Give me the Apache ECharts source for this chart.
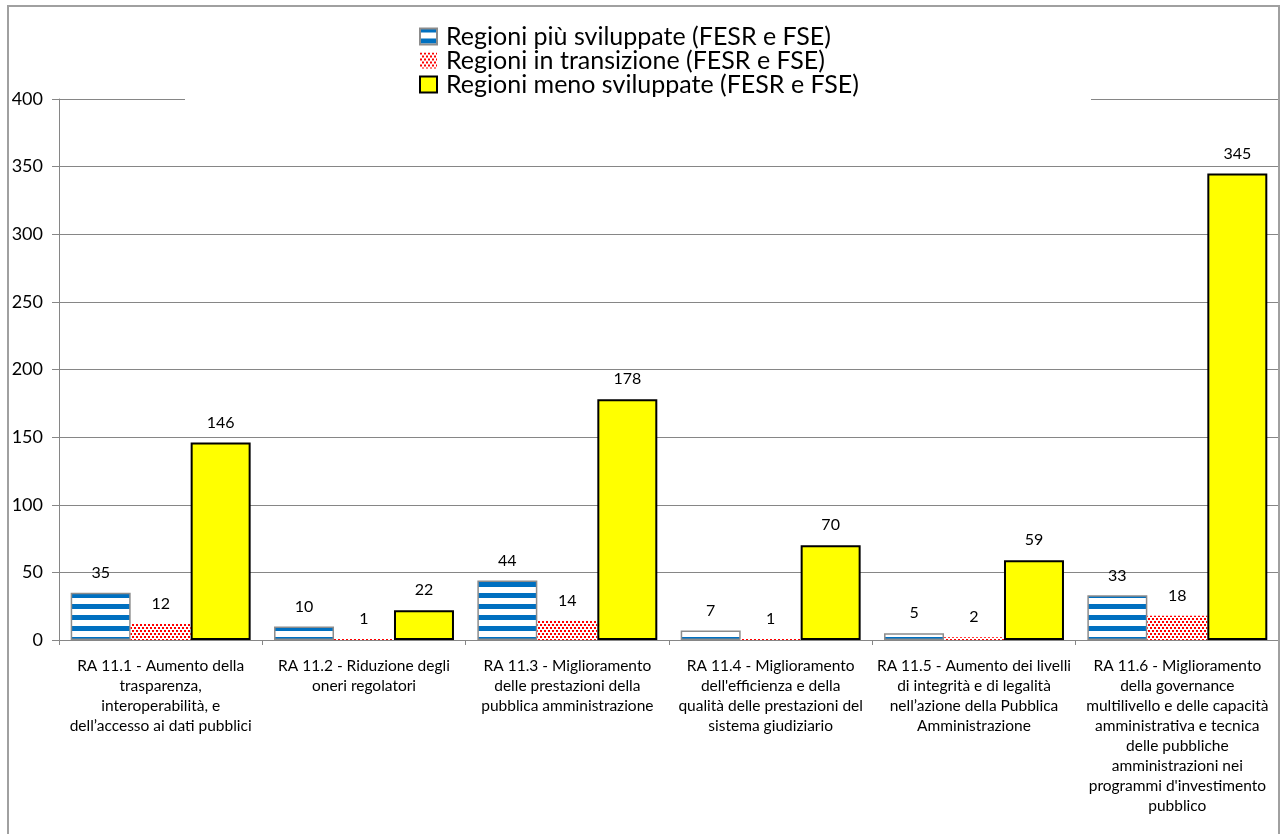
<!DOCTYPE html>
<html>
<head>
<meta charset="utf-8">
<script src="https://cdn.jsdelivr.net/npm/echarts@6/dist/echarts.min.js"></script>
<style>
html,body{margin:0;padding:0;background:#fff;}
#chart{width:1282px;height:834px;}
</style>
</head>
<body>
<div id="chart"></div>
<script>
const categories = [
  "RA 11.1 - Aumento della\ntrasparenza,\ninteroperabilità, e\ndell’accesso ai dati pubblici",
  "RA 11.2 - Riduzione degli\noneri regolatori",
  "RA 11.3 - Miglioramento\ndelle prestazioni della\npubblica amministrazione",
  "RA 11.4 - Miglioramento\ndell'efficienza e della\nqualità delle prestazioni del\nsistema giudiziario",
  "RA 11.5 - Aumento dei livelli\ndi integrità e di legalità\nnell’azione della Pubblica\nAmministrazione",
  "RA 11.6 - Miglioramento\ndella governance\nmultilivello e delle capacità\namministrativa e tecnica\ndelle pubbliche\namministrazioni nei\nprogrammi d'investimento\npubblico"
];
const seriesNames = [
  "Regioni più sviluppate (FESR e FSE)",
  "Regioni in transizione (FESR e FSE)",
  "Regioni meno sviluppate (FESR e FSE)"
];
const piuSviluppate = [35, 10, 44, 7, 5, 33];
const inTransizione = [12, 1, 14, 1, 2, 18];
const menoSviluppate = [146, 22, 178, 70, 59, 345];
const yTicks = [0, 50, 100, 150, 200, 250, 300, 350, 400];

function stripePattern() {
  const c = document.createElement('canvas');
  c.width = 4; c.height = 11;
  const ctx = c.getContext('2d');
  ctx.fillStyle = '#ffffff'; ctx.fillRect(0, 0, 4, 11);
  ctx.fillStyle = '#0070C0';
  ctx.fillRect(0, 10, 4, 1);
  ctx.fillRect(0, 0, 4, 4);
  return c;
}
function dotPattern() {
  const c = document.createElement('canvas');
  c.width = 4; c.height = 6;
  const ctx = c.getContext('2d');
  ctx.fillStyle = '#ffffff'; ctx.fillRect(0, 0, 4, 6);
  ctx.fillStyle = '#FF0000';
  ctx.fillRect(0, 0, 2, 2);
  ctx.fillRect(2, 3, 2, 2);
  return c;
}

const FONT = 'Lato, "Liberation Sans", sans-serif';
const chart = echarts.init(document.getElementById('chart'), null, {renderer: 'canvas'});

const labelCfg = {show: true, position: 'top', distance: 12, color: '#000', fontSize: 16, fontFamily: FONT};

chart.setOption({
  animation: false,
  backgroundColor: '#ffffff',
  textStyle: {fontFamily: FONT},
  grid: {left: 59, right: 3, top: 99, bottom: 194, containLabel: false},
  graphic: [
    {type: 'rect', z: 3, shape: {x: 185, y: 14, width: 906, height: 89}, style: {fill: '#ffffff'}, silent: true},
    {type: 'rect', z: 10, shape: {x: 8, y: 6, width: 1271, height: 900}, style: {fill: null, stroke: '#a0a0a0', lineWidth: 2}, silent: true}
  ],
  legend: {
    orient: 'vertical',
    left: 419,
    top: 24,
    padding: 0,
    itemGap: -1,
    itemWidth: 17,
    itemHeight: 16,
    icon: 'rect',
    z: 5,
    textStyle: {fontSize: 25, color: '#000', fontFamily: FONT, lineHeight: 23.5, padding: [0, 0, 0, 4]},
    data: seriesNames
  },
  xAxis: {
    type: 'category',
    data: categories,
    axisLine: {lineStyle: {color: '#868686', width: 1}},
    axisTick: {show: true, length: 5, lineStyle: {color: '#868686'}},
    axisLabel: {interval: 0, color: '#000', fontSize: 15.5, lineHeight: 20, margin: 16, fontFamily: FONT, align: 'center'}
  },
  yAxis: {
    type: 'value',
    min: 0, max: 400, interval: 50,
    axisLine: {show: true, lineStyle: {color: '#868686', width: 1}},
    axisTick: {show: true, length: 7, lineStyle: {color: '#868686'}},
    axisLabel: {color: '#000', fontSize: 18, margin: 16, fontFamily: FONT,
      formatter: v => yTicks.indexOf(v) >= 0 ? String(v) : ''},
    splitLine: {show: true, lineStyle: {color: '#868686', width: 1}}
  },
  series: [
    {
      name: seriesNames[0], type: 'bar', data: piuSviluppate,
      barGap: '0%', barCategoryGap: '11.5%',
      itemStyle: {color: {image: stripePattern(), repeat: 'repeat'}, borderColor: '#8c8c8c', borderWidth: 1.5},
      label: labelCfg
    },
    {
      name: seriesNames[1], type: 'bar', data: inTransizione,
      barGap: '0%', barCategoryGap: '11.5%',
      itemStyle: {color: {image: dotPattern(), repeat: 'repeat'}, borderWidth: 0},
      label: labelCfg
    },
    {
      name: seriesNames[2], type: 'bar', data: menoSviluppate,
      barGap: '0%', barCategoryGap: '11.5%',
      itemStyle: {color: '#FFFF00', borderColor: '#000000', borderWidth: 2},
      label: labelCfg
    }
  ]
});
</script>
</body>
</html>
